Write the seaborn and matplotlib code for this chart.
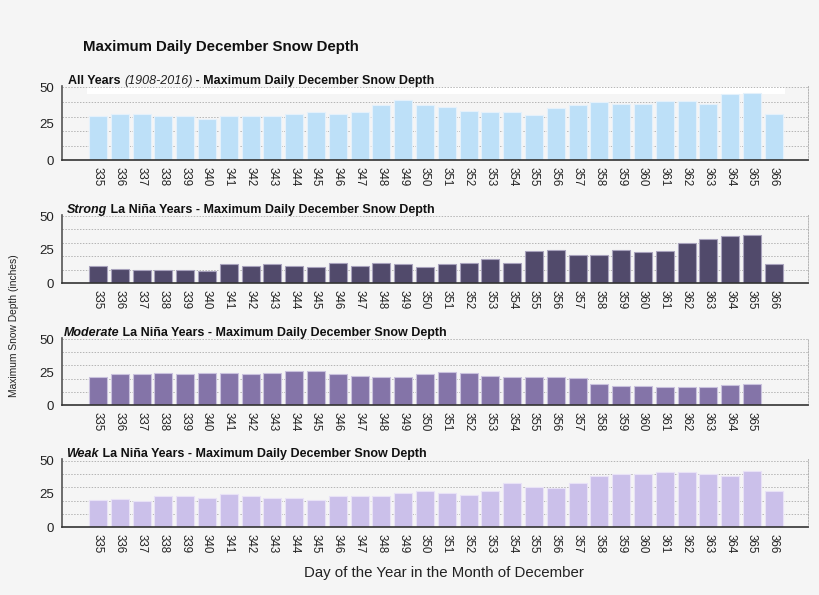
import matplotlib
matplotlib.use('Agg')
import matplotlib.pyplot as plt
import seaborn as sns
import pandas as pd
import numpy as np

sns.set_style("white")
plt.rcParams['font.family'] = ['Liberation Sans', 'DejaVu Sans']

# Datos
days_full = [335, 336, 337, 338, 339, 340, 341, 342, 343, 344, 345, 346, 347, 348, 349, 350,
             351, 352, 353, 354, 355, 356, 357, 358, 359, 360, 361, 362, 363, 364, 365, 366]
days_mod = days_full[:-1]

all_years = [30.2, 32.0, 32.0, 30.2, 30.2, 28.4, 30.2, 30.7, 30.7, 32.0, 33.0, 32.0, 33.0, 37.8, 41.7, 37.8,
             36.4, 33.7, 33.0, 33.0, 30.9, 35.7, 37.8, 40.3, 39.0, 39.0, 40.8, 40.8, 39.0, 45.2, 45.9, 32.0]
strong = [12.9, 10.7, 9.7, 9.7, 9.7, 9.0, 14.0, 12.9, 14.0, 12.9, 11.7, 14.9, 12.9, 14.9, 14.0, 11.7,
          14.0, 14.9, 17.9, 14.9, 23.9, 24.9, 20.9, 20.9, 24.9, 23.1, 23.9, 30.1, 33.1, 34.8, 35.8, 14.0]
moderate = [21.0, 23.2, 23.2, 24.0, 23.2, 24.0, 24.0, 23.2, 24.0, 26.0, 26.0, 23.2, 21.7, 21.0, 21.0, 23.2,
            25.0, 24.0, 21.7, 21.0, 21.0, 21.0, 20.2, 15.7, 14.6, 14.6, 13.9, 13.9, 13.9, 14.9, 15.9]
weak = [20.5, 21.2, 19.7, 23.5, 23.5, 22.2, 24.7, 23.5, 22.2, 22.2, 20.5, 23.5, 23.5, 23.5, 25.5, 27.2,
        25.5, 24.5, 27.0, 33.5, 30.2, 29.5, 33.5, 38.7, 40.0, 40.0, 41.5, 41.5, 40.0, 38.7, 42.2, 27.0]

y_ticks = [0, 25, 50]
grid_levels = [10, 20, 30, 40, 50]

rest = " La Niña Years - Maximum Daily December Snow Depth"
paneles = [
    dict(days=days_full, vals=all_years, color='#bde0f8', edge='#e4f1fb',
         title=[("All Years ", 'normal'), ("(1908-2016)", 'italic_light'),
                (" - Maximum Daily December Snow Depth", 'normal')],
         rect=[62/820, 1 - 160.5/595, 746/820, 74.5/595], tx=0.008),
    dict(days=days_full, vals=strong, color='#514a6b', edge='#a8a2bc',
         title=[("Strong", 'italic'), (rest, 'normal')],
         rect=[62/820, 1 - 283/595, 746/820, 68.3/595], tx=0.006),
    dict(days=days_mod, vals=moderate, color='#8474a8', edge='#c9c1dd',
         title=[("Moderate", 'italic'), (rest, 'normal')],
         rect=[62/820, 1 - 405/595, 746/820, 67.3/595], tx=0.002),
    dict(days=days_full, vals=weak, color='#cbc0ea', edge='#e8e2f6',
         title=[("Weak", 'italic'), (rest, 'normal')],
         rect=[62/820, 1 - 527.3/595, 746/820, 68/595], tx=0.006),
]

bg = '#f5f5f5'
fig = plt.figure(figsize=(8.2, 5.95), dpi=100, facecolor=bg)

for i, p in enumerate(paneles):
    ax = fig.add_axes(p['rect'])
    ax.set_facecolor(bg)
    df = pd.DataFrame({'day': [str(d) for d in p['days']], 'depth': p['vals']})
    n = len(df)

    # banda blanca detras del titulo
    if i == 0:
        ax.axhspan(45.5, 50, xmin=(1.15)/34.22, xmax=(33.15)/34.22, color='white', zorder=0.5, lw=0)
    for v in grid_levels:
        ax.axhline(v, color='#b5b5b5', ls=(0, (1.5, 1.5)), lw=0.7, zorder=1)

    sns.barplot(data=df, x='day', y='depth', color=p['color'], saturation=1,
                width=0.83, edgecolor=p['edge'], linewidth=0.8, ax=ax, zorder=2)

    ax.set_xlim(-1.65, 32.57)
    ax.set_ylim(0, 51)
    ax.set_xlabel('')
    ax.set_ylabel('')

    ax.set_xticks(range(n))
    ax.set_xticklabels(df['day'], rotation=-90, fontsize=8.3, color='#222222')
    ax.set_xticks(np.arange(n + 1) - 0.5, minor=True)
    ax.tick_params(axis='x', which='major', length=0, pad=5)
    ax.tick_params(axis='x', which='minor', length=4, width=1, color='#333333', direction='out')
    ax.set_yticks(y_ticks)
    ax.set_yticklabels([str(t) for t in y_ticks], fontsize=9.5, color='#222222')
    ax.tick_params(axis='y', length=4, width=1, color='#555555', direction='out', pad=2)

    ax.spines['top'].set_visible(False)
    ax.spines['right'].set_linestyle((0, (1.5, 1.5)))
    ax.spines['right'].set_color('#b5b5b5')
    ax.spines['right'].set_linewidth(0.7)
    ax.spines['left'].set_color('#555555')
    ax.spines['left'].set_linewidth(1.2)
    ax.spines['bottom'].set_color('#333333')
    ax.spines['bottom'].set_linewidth(1.2)

    # titulo con estilos mezclados
    prev = None
    for txt, estilo in p['title']:
        kw = dict(fontsize=9, color='#111111', va='bottom', ha='left')
        if estilo == 'italic':
            kw.update(fontweight='bold', style='italic')
        elif estilo == 'italic_light':
            kw.update(fontweight='normal', style='italic', color='#222222')
        else:
            kw.update(fontweight='bold')
        if prev is None:
            prev = ax.text(p['tx'], 0.985, txt, transform=ax.transAxes, **kw)
        else:
            prev = ax.annotate(txt, xy=(1, 0), xycoords=prev, **kw)

fig.text(83/820, 1 - 47/595, 'Maximum Daily December Snow Depth', fontsize=10.8,
         fontweight='bold', color='#111111', va='center', ha='left')
fig.text(14/820, 1 - 326/595, 'Maximum Snow Depth (inches)', fontsize=7.4,
         rotation=90, va='center', ha='center', color='#222222')
fig.text(444/820, 1 - 573/595, 'Day of the Year in the Month of December', fontsize=10.8,
         va='center', ha='center', color='#222222')

plt.savefig('out.png', dpi=100, facecolor=bg)
